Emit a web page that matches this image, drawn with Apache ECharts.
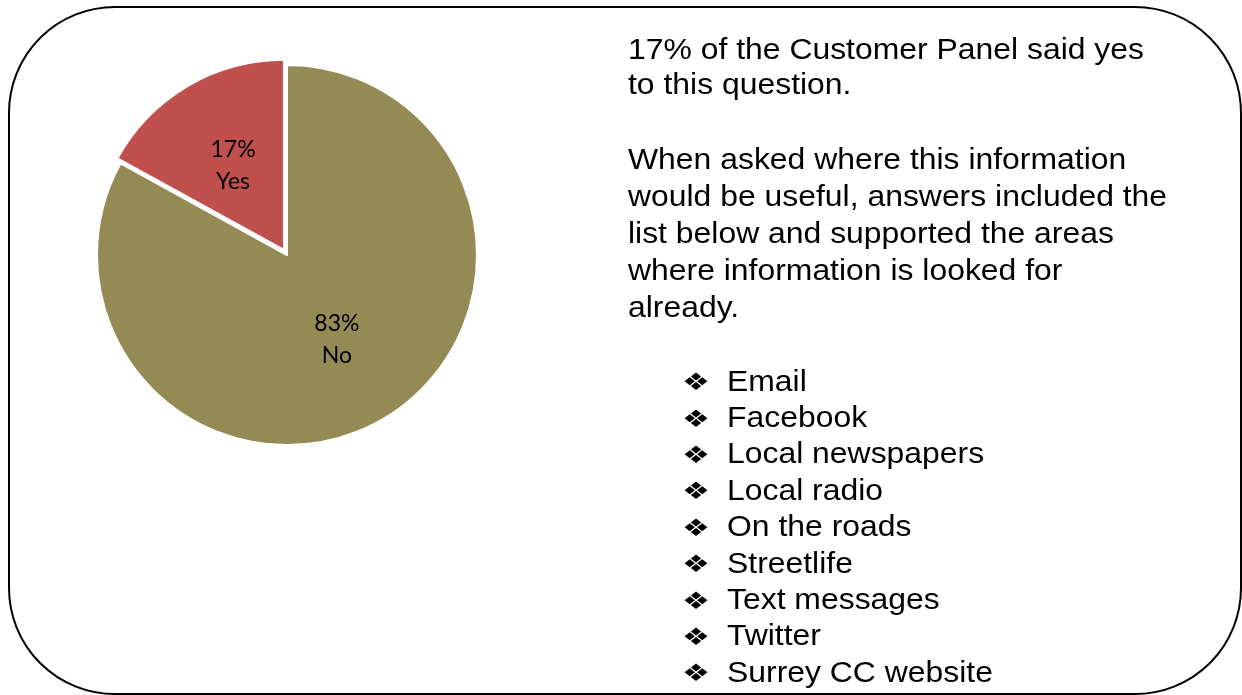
<!DOCTYPE html>
<html>
<head>
<meta charset="utf-8">
<script src="https://cdn.jsdelivr.net/npm/echarts@6/dist/echarts.min.js"></script>
<style>
  html, body { margin: 0; padding: 0; background: #fff; }
  #chart { width: 1242px; height: 695px; }
</style>
</head>
<body>
<div id="chart"></div>
<script>
// Survey answers (percent of the Customer Panel)
const categories = ['No', 'Yes'];
const values = [83, 17];
const sliceColors = ['#948A54', '#C0504D'];

// Commentary beside the pie
const summaryLines = ['17% of the Customer Panel said yes', 'to this question.'];
const detailLines = [
  'When asked where this information',
  'would be useful, answers included the',
  'list below and supported the areas',
  'where information is looked for',
  'already.'
];
const channels = [
  'Email', 'Facebook', 'Local newspapers', 'Local radio', 'On the roads',
  'Streetlife', 'Text messages', 'Twitter', 'Surrey CC website'
];

const chart = echarts.init(document.getElementById('chart'), null, { renderer: 'canvas' });

const bodyFont = { fontFamily: '"Liberation Sans", Arial, sans-serif', fontSize: 29, fill: '#000' };
const bodyStretch = 1.1;   // the body face is set slightly wide
const textX = 628;
const graphics = [];

// Rounded frame around the whole panel
graphics.push({
  type: 'rect',
  shape: { x: 9, y: 7, width: 1232, height: 687, r: 106 },
  style: { fill: 'none', stroke: '#000', lineWidth: 2 },
  z: 0
});

function addLine(text, x, baseline) {
  graphics.push({
    type: 'text',
    x: x,
    y: baseline,
    scaleX: bodyStretch,
    style: Object.assign({ text: text, textAlign: 'left', textVerticalAlign: 'bottom' }, bodyFont),
    z: 5
  });
}

function addBullet(x, centerY) {
  graphics.push({
    type: 'text',
    x: x,
    y: centerY,
    scaleX: 1.3,
    style: {
      text: '\u2756', textAlign: 'left', textVerticalAlign: 'middle',
      fontFamily: '"DejaVu Sans", sans-serif', fontSize: 24, fill: '#000'
    },
    z: 5
  });
}

// Baseline positions, text sits above them
summaryLines.forEach((t, i) => addLine(t, textX, 65.5 + i * 35));
detailLines.forEach((t, i) => addLine(t, textX, 175 + i * 37));
channels.forEach((t, i) => {
  const base = 397 + i * 36.4;
  addBullet(682, base - 13);
  addLine(t, 727, base);
});

chart.setOption({
  animation: false,
  backgroundColor: '#fff',
  graphic: graphics,
  series: [{
    type: 'pie',
    center: [287, 255],
    radius: 190,
    startAngle: 90,
    clockwise: true,
    selectedMode: 'single',
    selectedOffset: 6,
    avoidLabelOverlap: false,
    emphasis: { disabled: true },
    itemStyle: { borderColor: '#fff', borderWidth: 2 },
    label: {
      show: true,
      position: 'inside',
      formatter: '{d}%\n{b}',
      color: '#000',
      fontFamily: 'Lato, "Open Sans", sans-serif',
      fontSize: 23,
      lineHeight: 32
    },
    labelLine: { show: false },
    data: categories.map((name, i) => ({
      name: name,
      value: values[i],
      selected: name === 'Yes',
      itemStyle: { color: sliceColors[i] },
      // the small slice's label sits a touch lower in its wedge
      label: name === 'Yes' ? { padding: [6, 2, 0, 0] } : {}
    }))
  }]
});
</script>
</body>
</html>
